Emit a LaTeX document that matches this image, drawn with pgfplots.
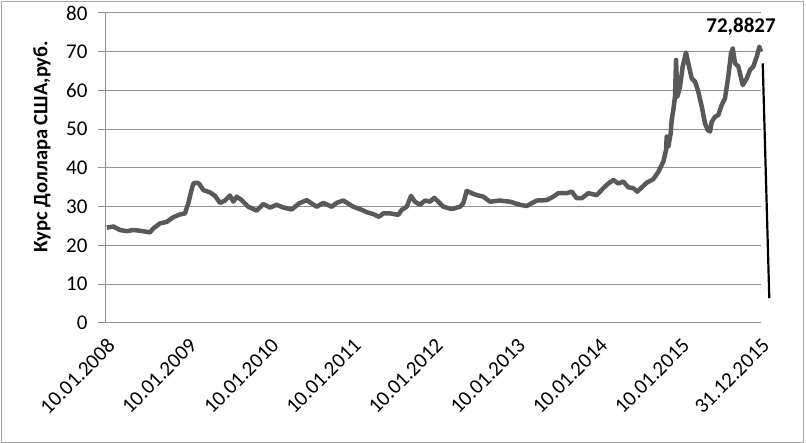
\documentclass[border=0pt]{standalone}
\usepackage{fontspec}
\setmainfont{Carlito}
\usepackage{pgfplots}
\pgfplotsset{compat=1.18}
\definecolor{linegray}{RGB}{89,89,89}
\definecolor{gridgray}{RGB}{145,145,145}
\begin{document}
\begin{tikzpicture}[x=1pt,y=1pt]
\useasboundingbox (0,0) rectangle (806,443);
\draw[gridgray!80, line width=1pt] (1.5,0.5) rectangle (803.5,441.5);
\begin{axis}[
  at={(106pt,120pt)}, anchor=south west, scale only axis,
  width=655pt, height=310pt,
  xmin=0, xmax=7.973, ymin=0, ymax=80,
  clip=false,
  axis lines=left,
  x axis line style={-, gridgray, line width=1pt},
  y axis line style={-, gridgray, line width=1pt},
  ytick={0,10,...,80},
  ymajorgrids, grid style={gridgray, line width=1pt},
  ytick style={gridgray, line width=1pt},
  tick align=outside, major tick length=8pt,
  xtick={0,1,2,3,4,5,6,7,7.973},
  xticklabels={10.01.2008,10.01.2009,10.01.2010,10.01.2011,10.01.2012,10.01.2013,10.01.2014,10.01.2015,31.12.2015},
  xtick style={draw=none},
  /pgf/number format/assume math mode=true,
  tick label style={font=\fontsize{21}{24}\selectfont},
  xticklabel style={xshift=0pt, yshift=-6pt, rotate=45, anchor=north east, inner sep=0pt},
  yticklabel style={xshift=-7pt},
  ylabel={Курс Доллара США,руб.},
  ylabel style={at={(axis description cs:-0.0977,0.569)}, anchor=center, font=\bfseries\fontsize{20.5}{24}\selectfont},
]
\addplot[linegray, line width=4.5pt, line join=round] coordinates {
(0.010,24.6)(0.089,24.9)(0.170,24.0)(0.252,23.7)(0.332,24.0)(0.414,23.8)(0.536,23.4)(0.576,24.4)
(0.657,25.7)(0.739,26.1)(0.819,27.3)(0.901,28.0)(0.962,28.3)(1.002,30.9)(1.031,33.5)(1.063,36.0)
(1.104,36.2)(1.136,35.9)(1.184,34.3)(1.266,33.7)(1.327,32.8)(1.388,31.0)(1.449,31.6)(1.509,32.9)
(1.550,31.3)(1.591,32.6)(1.652,31.7)(1.732,30.0)(1.834,29.0)(1.915,30.7)(1.996,29.8)(2.078,30.5)
(2.158,29.8)(2.261,29.3)(2.353,30.9)(2.443,31.7)(2.565,30.0)(2.645,31.0)(2.747,30.0)(2.808,31.0)
(2.889,31.6)(3.010,30.0)(3.113,29.2)(3.174,28.6)(3.254,28.1)(3.323,27.4)(3.376,28.3)(3.457,28.3)
(3.558,27.9)(3.600,29.2)(3.660,30.0)(3.713,32.8)(3.761,31.3)(3.822,30.5)(3.883,31.6)(3.944,31.3)
(3.996,32.3)(4.045,31.3)(4.106,30.0)(4.208,29.4)(4.309,30.0)(4.349,30.9)(4.391,34.1)(4.452,33.5)
(4.513,33.0)(4.593,32.6)(4.674,31.3)(4.788,31.6)(4.918,31.3)(5.040,30.5)(5.121,30.2)(5.243,31.6)
(5.365,31.7)(5.445,32.6)(5.506,33.5)(5.608,33.5)(5.669,33.9)(5.730,32.2)(5.791,32.2)(5.871,33.5)
(5.973,33.0)(6.054,34.8)(6.115,36.0)(6.176,36.9)(6.236,36.0)(6.297,36.5)(6.358,35.0)(6.419,34.8)
(6.468,33.9)(6.521,35.0)(6.582,36.2)(6.662,37.1)(6.723,39.0)(6.784,41.6)(6.817,44.6)(6.825,48.1)
(6.845,45.5)(6.874,49.0)(6.886,52.4)(6.906,55.0)(6.926,58.4)(6.939,67.9)(6.955,58.4)(6.987,61.0)
(7.020,66.2)(7.060,69.8)(7.088,67.0)(7.130,63.1)(7.170,62.3)(7.210,59.7)(7.252,55.8)(7.292,51.5)
(7.325,49.8)(7.353,49.4)(7.373,51.9)(7.413,53.2)(7.454,53.7)(7.495,56.3)(7.535,58.0)(7.575,63.6)
(7.608,69.6)(7.629,70.9)(7.657,67.0)(7.697,66.2)(7.751,61.4)(7.799,63.1)(7.840,65.3)(7.880,66.2)
(7.921,68.7)(7.953,71.3)(7.973,70.0)
};
\addplot[black, line width=2.2pt] coordinates {(7.994,67.0)(8.074,6.4)};
\node[font=\bfseries\fontsize{21}{24}\selectfont] at (axis cs:7.73,76.4) {72,8827};
\end{axis}
\end{tikzpicture}
\end{document}
